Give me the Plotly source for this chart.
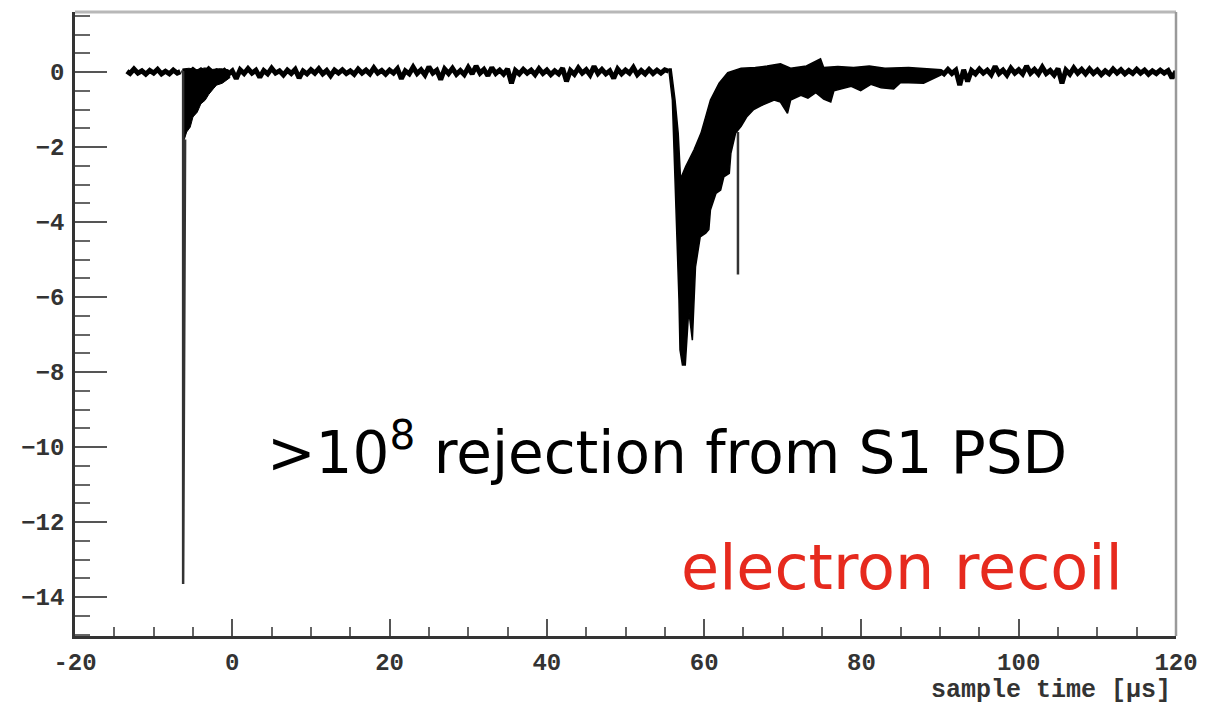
import plotly.graph_objects as go

# ---------------- data ----------------
SAMPLE_STEP = 0.5  # µs between plotted samples of the noisy baseline

# baseline before S1
pre_s1_t = [-13.4, -13.0, -12.5, -12.0, -11.5, -11.0, -10.5, -10.0, -9.5, -9.0, -8.5, -8.0, -7.5, -7.0, -6.6]
pre_s1_v = [0.02, -0.04, 0.08, -0.03, 0.03, -0.06, 0.04, -0.03, 0.07, -0.05, 0.02, -0.05, 0.05, -0.03, 0.01]

# S1 prompt spike
s1_spike_t = [-6.5, -6.25, -6.25, -6.0]
s1_spike_v = [0.02, 0.0, -13.65, -1.8]

# S1 slow tail envelope (upper then lower edge)
s1_env_t = [-6.35, -5.5, -4.5, -3.5, -2.5, -1.5, -0.5, -0.3, -1.27, -2.0, -2.42, -3.0, -3.44, -4.0, -4.45, -5.0, -5.35, -5.8, -6.1, -6.35]
s1_env_v = [0.08, 0.10, 0.06, 0.11, 0.07, 0.09, 0.06, -0.15, -0.30, -0.35, -0.45, -0.60, -0.75, -0.85, -1.07, -1.20, -1.47, -1.60, -1.80, -1.80]

# baseline between S1 and S2 (starts at -6.0 µs)
mid_start = -6.0
mid_v = [0.04, -0.03, 0.06, -0.02, 0.05, -0.04, 0.08, -0.02, 0.03, -0.05,
         0.04, -0.06, 0.03, -0.18, 0.06, -0.04, 0.09, -0.03, 0.05, -0.14,
         0.04, -0.05, 0.10, -0.03, 0.03, -0.08, 0.05, -0.04, 0.07, -0.16,
         0.03, -0.05, 0.06, -0.03, 0.09, -0.05, 0.04, -0.10, 0.05, -0.03,
         0.06, -0.04, 0.03, -0.06, 0.08, -0.03, 0.05, -0.05, 0.11, -0.03,
         0.04, -0.06, 0.05, -0.03, 0.09, -0.18, 0.03, -0.05, 0.13, -0.04,
         0.06, -0.08, 0.14, -0.03, 0.05, -0.20, 0.08, -0.04, 0.10, -0.06,
         0.04, -0.07, 0.12, -0.05, 0.16, -0.03, 0.07, -0.10, 0.12, -0.04,
         0.05, -0.06, 0.08, -0.30, 0.04, -0.05, 0.07, -0.03, 0.05, -0.07,
         0.09, -0.04, 0.05, -0.07, 0.03, -0.05, 0.10, -0.25, 0.04, -0.06,
         0.11, -0.03, 0.06, -0.08, 0.15, -0.04, 0.07, -0.05, 0.03, -0.17,
         0.08, -0.05, 0.05, -0.03, 0.12, -0.07, 0.04, -0.05, 0.07, -0.04,
         0.05, -0.03, 0.06, 0.02]

# S2 envelope (outline of the dense overlaid region)
s2_env_t = [55.5, 55.8, 56.3, 56.7, 57.0, 57.65, 58.7, 59.6, 60.2, 60.8, 61.9, 63.0, 64.7, 66.5,
            68.0, 69.7, 71.0, 73.0, 74.8, 75.2, 77.0, 79.0, 81.0, 83.0, 86.0, 88.0, 90.1,
            90.1, 87.9, 85.0, 84.1, 82.5, 81.2, 79.9, 78.7, 76.5, 76.1, 75.2, 74.2, 73.2, 72.3,
            71.0, 70.6, 69.7, 68.9, 67.2, 66.3, 65.4, 64.7, 64.0, 63.4, 63.2, 62.5, 62.1, 61.5,
            60.8, 60.6, 60.2, 59.5, 58.9, 58.7, 58.5, 58.04, 57.6, 57.24, 56.93, 56.8, 56.6,
            56.38, 56.16, 55.96, 55.5]
s2_env_v = [0.08, 0.08, -0.75, -1.63, -2.85, -2.52, -2.08, -1.63, -1.19, -0.75, -0.30, -0.02, 0.10, 0.12,
            0.16, 0.22, 0.10, 0.16, 0.35, 0.12, 0.15, 0.12, 0.16, 0.10, 0.12, 0.10, 0.06,
            -0.08, -0.30, -0.28, -0.45, -0.42, -0.33, -0.50, -0.38, -0.50, -0.80, -0.72, -0.55, -0.70, -0.62,
            -0.75, -1.10, -0.80, -0.75, -0.90, -1.00, -1.20, -1.45, -1.63, -2.17, -2.70, -2.80, -3.15, -3.24,
            -3.68, -4.20, -4.30, -4.40, -5.20, -6.35, -7.15, -6.35, -7.81, -7.81, -7.41, -6.08, -4.75,
            -2.96, -1.63, -0.75, 0.08]

# late single-photon spike in the S2 tail
s2_spike_t = [64.3, 64.3]
s2_spike_v = [-1.6, -5.4]

# baseline after S2 (starts at 90.0 µs)
post_start = 90.0
post_v = [0.03, -0.05, 0.07, -0.04, 0.05, -0.35, 0.06, -0.25, 0.04, -0.05,
          0.08, -0.03, 0.05, -0.07, 0.15, -0.04, 0.05, -0.08, 0.10, -0.03,
          0.06, -0.05, 0.16, -0.03, 0.07, -0.05, 0.13, -0.04, 0.04, -0.08,
          0.09, -0.30, 0.05, -0.06, 0.11, -0.03, 0.07, -0.05, 0.08, -0.04,
          0.05, -0.07, 0.03, -0.05, 0.08, -0.03, 0.06, -0.05, 0.04, -0.04,
          0.07, -0.03, 0.05, -0.06, 0.03, -0.04, 0.05, -0.03, 0.04, -0.16,
          0.02]

x_ticks = [-20, 0, 20, 40, 60, 80, 100, 120]
y_ticks = [0, -2, -4, -6, -8, -10, -12, -14]

# ---------------- figure ----------------
mid_t = [mid_start + SAMPLE_STEP * i for i in range(len(mid_v))]
post_t = [post_start + SAMPLE_STEP * i for i in range(len(post_v))]

fig = go.Figure()
line_kw = dict(mode="lines", hoverinfo="skip", showlegend=False)

fig.add_trace(go.Scatter(x=s1_env_t, y=s1_env_v, fill="toself", fillcolor="black",
                         line=dict(color="black", width=1), **line_kw))
fig.add_trace(go.Scatter(x=s2_env_t, y=s2_env_v, fill="toself", fillcolor="black",
                         line=dict(color="black", width=1.5), **line_kw))
fig.add_trace(go.Scatter(x=pre_s1_t, y=pre_s1_v, line=dict(color="black", width=5), **line_kw))
fig.add_trace(go.Scatter(x=mid_t, y=mid_v, line=dict(color="black", width=5), **line_kw))
fig.add_trace(go.Scatter(x=post_t, y=post_v, line=dict(color="black", width=5), **line_kw))
fig.add_trace(go.Scatter(x=s1_spike_t, y=s1_spike_v, line=dict(color="#333333", width=2.5), **line_kw))
fig.add_trace(go.Scatter(x=s2_spike_t, y=s2_spike_v, line=dict(color="#333333", width=2.5), **line_kw))

tick_font = dict(family="Liberation Mono", size=24, color="#333333", weight="bold")

fig.update_xaxes(range=[-20, 120], tickvals=x_ticks, ticktext=[str(v) for v in x_ticks],
                 ticks="inside", ticklen=17, tickwidth=2, tickcolor="#555555",
                 showline=True, linecolor="#333333", linewidth=2.5,
                 showgrid=False, zeroline=False, tickfont=tick_font, ticklabelstandoff=2,
                 minor=dict(dtick=5, tick0=0, ticks="inside", ticklen=9, tickwidth=2, tickcolor="#666666"))
fig.update_yaxes(range=[-15.04, 1.6], tickvals=y_ticks, ticktext=[str(v).replace("-", "\u2212") for v in y_ticks],
                 ticks="inside", ticklen=32, tickwidth=2, tickcolor="#555555",
                 showline=True, linecolor="#333333", linewidth=2.5,
                 showgrid=False, zeroline=False, tickfont=tick_font, ticklabelstandoff=3,
                 minor=dict(dtick=0.5, tick0=0, ticks="inside", ticklen=15, tickwidth=2, tickcolor="#666666"))

fig.update_layout(
    width=1227, height=704,
    margin=dict(l=75, r=51, t=12, b=68),
    paper_bgcolor="white", plot_bgcolor="white",
    shapes=[
        dict(type="line", xref="paper", yref="paper", x0=0, x1=1, y0=1, y1=1,
             line=dict(color="#b8b8b8", width=3)),
        dict(type="line", xref="paper", yref="paper", x0=1, x1=1, y0=0, y1=1,
             line=dict(color="#9a9a9a", width=2.5)),
    ],
    annotations=[
        dict(text="sample time [\u03bcs]", xref="paper", yref="paper", x=0.9973, y=-0.088,
             xanchor="right", yanchor="middle", showarrow=False,
             font=dict(family="Liberation Mono", size=25, color="#333333", weight="bold")),
        dict(text=">10<sup>8</sup> rejection from S1 PSD", xref="paper", yref="paper",
             x=0.1726, y=0.300, xanchor="left", yanchor="middle", showarrow=False,
             font=dict(family="DejaVu Sans", size=58, color="black")),
        dict(text="electron recoil", xref="paper", yref="paper",
             x=0.9537, y=0.110, xanchor="right", yanchor="middle", showarrow=False,
             font=dict(family="DejaVu Sans", size=62, color="#e62a1e")),
    ],
)

fig.write_html("out.html", config={"displayModeBar": False},
               post_script="document.body.style.margin='0';document.body.style.padding='0';")
